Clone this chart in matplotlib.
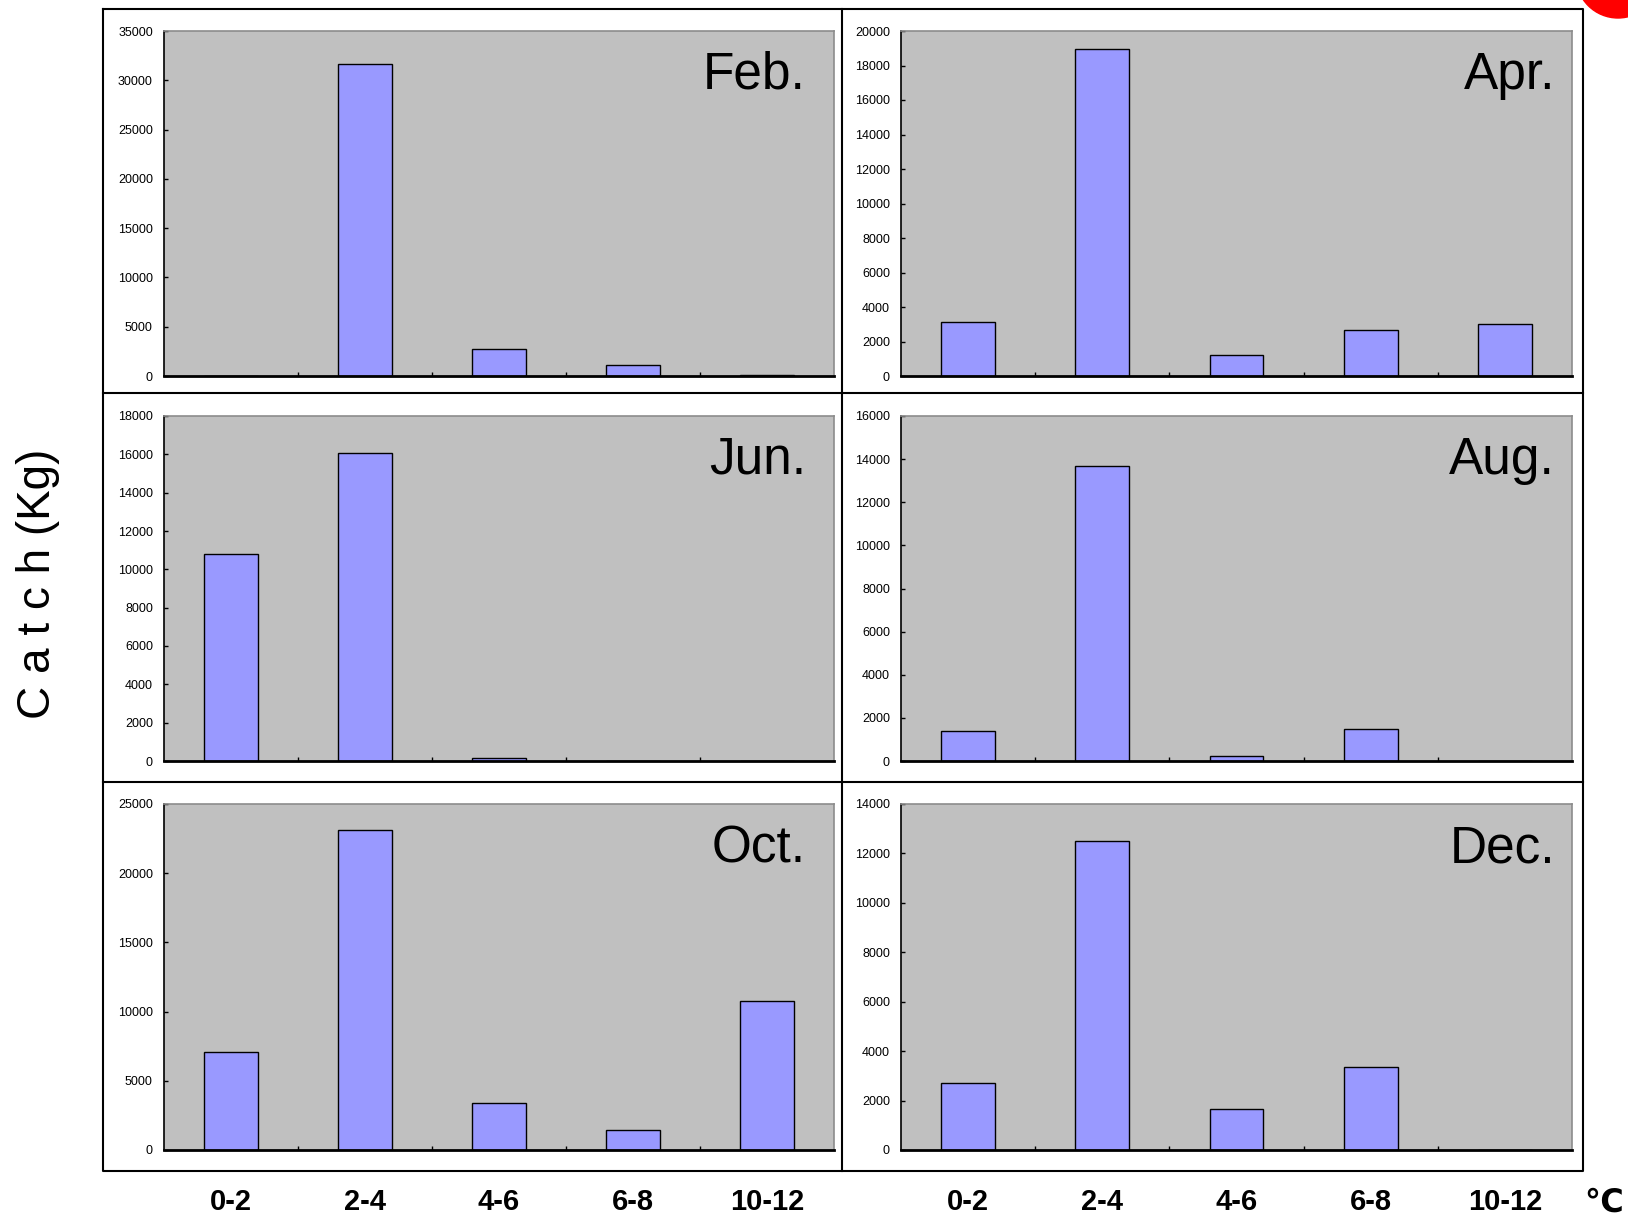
import numpy as np
import matplotlib
matplotlib.use("Agg")
import matplotlib.pyplot as plt
from matplotlib.lines import Line2D
from matplotlib.patches import Ellipse

# temperature classes (deg C)
temp_bins = ["0-2", "2-4", "4-6", "6-8", "10-12"]

months = ["Feb.", "Apr.", "Jun.", "Aug.", "Oct.", "Dec."]

feb = [0, 31700, 2780, 1110, 100]
apr = [3110, 18980, 1220, 2690, 3000]
jun = [10810, 16070, 150, 0, 0]
aug = [1380, 13680, 250, 1470, 0]
oct_ = [7080, 23150, 3400, 1420, 10750]
dec = [2720, 12500, 1660, 3360, 0]

catch = [feb, apr, jun, aug, oct_, dec]

y_max = [35000, 20000, 18000, 16000, 25000, 14000]
y_step = [5000, 2000, 2000, 2000, 5000, 2000]

W, H = 1628, 1218
fig = plt.figure(figsize=(W / 100, H / 100), dpi=100)
plt.rcParams["font.family"] = ["Liberation Sans", "DejaVu Sans"]

# axes boxes in pixels: (left, right) and (top, bottom)
col_x = [(164, 834), (901, 1572)]
row_y = [(31, 376), (416, 761), (804, 1150)]

x = np.arange(len(temp_bins))

for i, vals in enumerate(catch):
    r, c = divmod(i, 2)
    x0, x1 = col_x[c]
    t, b = row_y[r]
    ax = fig.add_axes([x0 / W, 1 - b / H, (x1 - x0) / W, (b - t) / H])
    ax.set_facecolor("#c0c0c0")
    ax.bar(x, vals, width=0.4, color="#9999ff", edgecolor="black", linewidth=1, zorder=2)
    ax.set_xlim(-0.5, len(temp_bins) - 0.5)
    ax.set_ylim(0, y_max[i])
    ax.set_yticks(np.arange(0, y_max[i] + 1, y_step[i]))
    ax.tick_params(axis="y", direction="in", length=3, width=1, labelsize=9, pad=8)

    ax.set_xticks(x[:-1] + 0.5)
    ax.set_xticklabels([])
    ax.tick_params(axis="x", which="major", direction="in", length=3, width=1)
    if r == 2:
        ax.set_xticks(x, minor=True)
        ax.set_xticklabels(temp_bins, minor=True, fontsize=21, fontweight="bold")
        ax.tick_params(axis="x", which="minor", length=0, pad=27)

    ax.spines["left"].set_color("black")
    ax.spines["left"].set_linewidth(1.2)
    ax.spines["bottom"].set_color("black")
    ax.spines["bottom"].set_linewidth(2)
    for s in ["top", "right"]:
        ax.spines[s].set_color("#8c8c8c")
        ax.spines[s].set_linewidth(1.2)

    ax.text(0.958 if c == 0 else 0.975, 0.832, months[i], transform=ax.transAxes,
            ha="right", va="baseline", fontsize=37, color="black")

# outer frame and dividers
frame = dict(color="black", linewidth=1.5, transform=fig.transFigure)
L, R, T, B = 103 / W, 1583 / W, 1 - 9 / H, 1 - 1171 / H
fig.add_artist(Line2D([L, R, R, L, L], [T, T, B, B, T], **frame))
fig.add_artist(Line2D([842 / W, 842 / W], [T, B], **frame))
for yy in [393, 782]:
    fig.add_artist(Line2D([L, R], [1 - yy / H, 1 - yy / H], **frame))

fig.text(38 / W, 1 - 584 / H, "C a t c h (Kg)", rotation=90, ha="center", va="center",
         fontsize=33)
fig.text(1604 / W, 1 - 1204 / H, "\u2103", ha="center", va="center",
         fontsize=23, fontweight="bold")

# red marker cut at the top right corner
fig.add_artist(Ellipse((1618 / W, 1 + 24 / H), 84 / W, 84 / H, color="red",
                       transform=fig.transFigure, clip_on=False))

plt.savefig("out.png", dpi=100)
plt.close()
